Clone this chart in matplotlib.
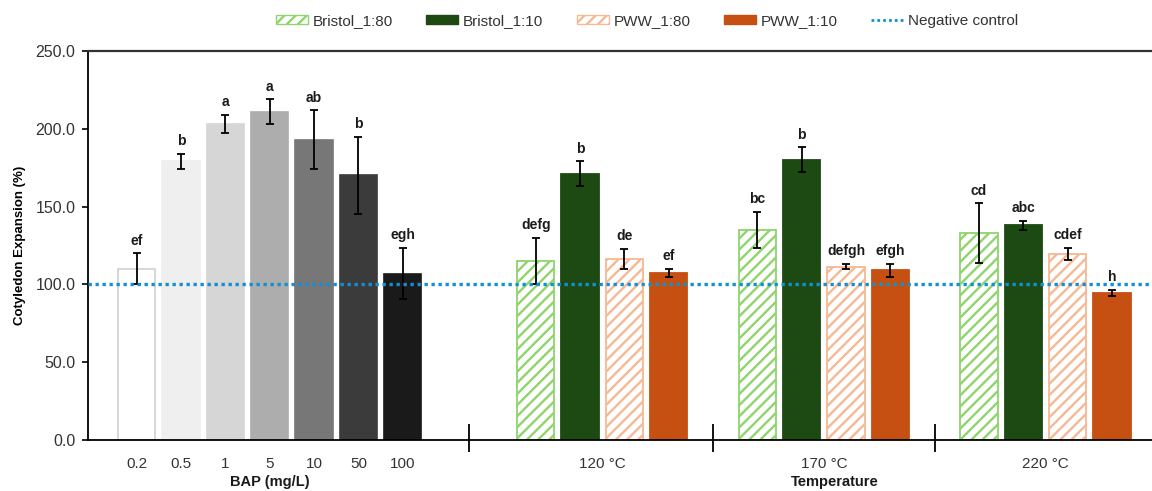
import numpy as np
import matplotlib
matplotlib.use('Agg')
import matplotlib.pyplot as plt
from matplotlib.patches import Patch
from matplotlib.lines import Line2D
import matplotlib.transforms as mtransforms

plt.rcParams['font.family'] = ['Liberation Sans', 'DejaVu Sans']
plt.rcParams['hatch.linewidth'] = 1.7

# BAP series
bap_labels = ['0.2', '0.5', '1', '5', '10', '50', '100']
bap_mean = [110, 179, 203, 211, 193, 170, 107]
bap_err = [10, 5, 6, 8, 19, 25, 16.5]
bap_letters = ['ef', 'b', 'a', 'a', 'ab', 'b', 'egh']
bap_colors = ['#ffffff', '#efefef', '#d6d6d6', '#adadad', '#777777', '#3b3b3b', '#1a1a1a']

# temperature series
temps = ['120 °C', '170 °C', '220 °C']
series_names = ['Bristol_1:80', 'Bristol_1:10', 'PWW_1:80', 'PWW_1:10']
bristol80 = [115, 135, 133]
bristol80_err = [15, 11.7, 19]
bristol80_let = ['defg', 'bc', 'cd']
bristol10 = [171, 180, 138]
bristol10_err = [8, 8, 3]
bristol10_let = ['b', 'b', 'abc']
pww80 = [116.5, 111.5, 119.7]
pww80_err = [6.5, 1.8, 3.7]
pww80_let = ['de', 'defgh', 'cdef']
pww10 = [107.5, 109, 94.5]
pww10_err = [2.7, 4.3, 2.2]
pww10_let = ['ef', 'efgh', 'h']

neg_control = 100

light_green = '#8fd46c'
dark_green = '#1c4a12'
light_orange = '#f7b894'
dark_orange = '#c55011'
ctrl_blue = '#1290d4'

fig = plt.figure(figsize=(11.52, 4.91), dpi=100)
ax = fig.add_axes([88/1152, 1 - 440/491, 1 - 88/1152, 389/491])

width = 0.84
err_kw = dict(ecolor='black', elinewidth=1.3, capsize=3, capthick=1.3)


def put_letters(xs, tops, errs, letters):
    for x, t, e, s in zip(xs, tops, errs, letters):
        ax.annotate(s, (x, t + e), xytext=(0, 4), textcoords='offset points',
                    ha='center', va='bottom', fontsize=10, fontweight='bold', color='#1a1a1a')


# BAP bars
bap_x = np.arange(len(bap_labels))
edge = ['#d0d0d0'] + bap_colors[1:]
ax.bar(bap_x, bap_mean, width, color=bap_colors, edgecolor=edge, linewidth=1.2,
       yerr=bap_err, error_kw=err_kw, zorder=2)
put_letters(bap_x, bap_mean, bap_err, bap_letters)

# temperature groups
group_start = np.array([9, 14, 19])
styles = [
    (bristol80, bristol80_err, bristol80_let, dict(color='white', edgecolor=light_green, hatch='///')),
    (bristol10, bristol10_err, bristol10_let, dict(color=dark_green, edgecolor=dark_green)),
    (pww80, pww80_err, pww80_let, dict(color='white', edgecolor=light_orange, hatch='///')),
    (pww10, pww10_err, pww10_let, dict(color=dark_orange, edgecolor=dark_orange)),
]
for i, (vals, errs, lets, st) in enumerate(styles):
    xs = group_start + i
    ax.bar(xs, vals, width, linewidth=1.3, yerr=errs, error_kw=err_kw, zorder=2, **st)
    put_letters(xs, vals, errs, lets)

ax.axhline(neg_control, color=ctrl_blue, lw=2.4, dashes=(1, 1.1), zorder=4)

# axes styling
ax.set_xlim(-1.1, 22.9)
ax.set_ylim(0, 250)
ax.set_yticks(np.arange(0, 251, 50))
ax.set_yticklabels([f'{v:.1f}' for v in np.arange(0, 251, 50)])
ax.tick_params(axis='y', direction='out', length=4, width=1.2, pad=5, labelsize=11.5, labelcolor='#333333')
group_centers = group_start + 1.5
ax.set_xticks(list(bap_x) + list(group_centers))
ax.set_xticklabels(bap_labels + temps)
ax.tick_params(axis='x', length=0, pad=12, labelsize=11, labelcolor='#333333')
ax.spines['right'].set_visible(False)
ax.spines['left'].set_linewidth(1.3)
ax.spines['bottom'].set_linewidth(1.3)
ax.spines['top'].set_linewidth(1.6)
ax.spines['top'].set_color('#333333')

# category separators
seps = [(bap_x[-1] + group_start[0]) / 2] + list(group_start[1:] - 1)
ax.vlines(seps, -8, 10, color='black', lw=1.3, clip_on=False, zorder=3)

ax.set_ylabel('Cotyledon Expansion (%)', fontsize=9.5, fontweight='bold', labelpad=7)
trans = mtransforms.blended_transform_factory(ax.transData, ax.transAxes)
ax.text(bap_x.mean(), -0.108, 'BAP (mg/L)', transform=trans, ha='center', va='center',
        fontsize=10.5, fontweight='bold', color='#1a1a1a')
ax.text(15.75, -0.108, 'Temperature', transform=trans, ha='center', va='center',
        fontsize=10.5, fontweight='bold', color='#1a1a1a')

handles = [
    Patch(facecolor='white', edgecolor=light_green, hatch='///', label=series_names[0]),
    Patch(facecolor=dark_green, edgecolor=dark_green, label=series_names[1]),
    Patch(facecolor='white', edgecolor=light_orange, hatch='///', label=series_names[2]),
    Patch(facecolor=dark_orange, edgecolor=dark_orange, label=series_names[3]),
    Line2D([0], [0], color=ctrl_blue, lw=2, dashes=(1, 1.1), label='Negative control'),
]
fig.legend(handles=handles, loc='center', bbox_to_anchor=(647/1152, 1 - 21/491), ncol=5,
           frameon=False, fontsize=11, handlelength=2.1, handleheight=0.6,
           handletextpad=0.3, columnspacing=2.2, labelcolor='#333333')

fig.savefig('out.png', dpi=100)
